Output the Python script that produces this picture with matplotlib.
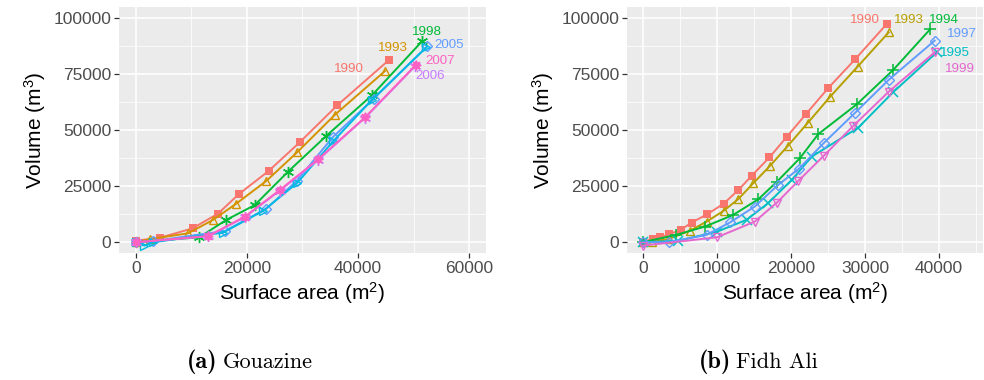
import matplotlib
matplotlib.use('Agg')
import matplotlib.pyplot as plt
from matplotlib.ticker import MultipleLocator

plt.rcParams['font.family']=['Liberation Sans','DejaVu Sans']
plt.rcParams['mathtext.fontset']='custom'; plt.rcParams['mathtext.rm']='Liberation Sans'; plt.rcParams['mathtext.it']='Liberation Sans'

# Gouazine: surface area (m2) and volume (m3) per survey year
gz_1990_area=[0,4300,10200,14800,18500,23900,29500,36300,45600]
gz_1990_vol=[700,2000,6200,12800,21400,31800,44600,61200,81400]
gz_1993_area=[0,2600,9400,13900,18000,23500,29100,35800,44900]
gz_1993_vol=[0,1400,4000,10000,17100,27400,40300,56800,76500]
gz_1998_area=[0,11400,16300,21400,27400,34300,42600,51500]
gz_1998_vol=[0,2200,10000,16600,31500,47500,65800,89600]
gz_2005_area=[0,3000,16000,23500,29000,35500,42800,52500]
gz_2005_vol=[0,500,5000,15000,27500,47000,64000,87500]
gz_cyan_area=[0,1500,3100,15700,22900,29100,35500,42500,52300]
gz_cyan_vol=[0,-1500,0,4300,14000,26600,45000,63500,87000]
gz_2006_area=[0,13000,19600,25900,32800,41300,50300]
gz_2006_vol=[0,2600,11200,23000,36700,55600,78600]
gz_2007_area=[0,13000,19600,25900,32800,41300,50400]
gz_2007_vol=[0,2800,11400,23300,37000,55800,79100]

# Fidh Ali
fa_1990_area=[0,1400,2300,3600,5100,6600,8700,10900,12900,14700,17100,19400,22000,25000,28700,32900]
fa_1990_vol=[300,1500,2200,3600,5500,8800,12500,17200,23300,29700,37900,46900,57100,68700,81800,97300]
fa_1993_area=[0,1200,3600,6400,8600,10900,12900,14900,17200,19600,22300,25300,29000,33200]
fa_1993_vol=[0,0,1600,5200,9200,14000,19300,26300,34200,43100,53400,65000,78400,93700]
fa_1994_area=[0,4500,8400,12200,15600,18100,21200,23700,28900,33800,38800]
fa_1994_vol=[0,3300,7000,12200,19200,27000,37500,48300,61600,76900,95100]
fa_1995_area=[0,4800,10000,14000,16900,20100,22800,29100,33800,39700]
fa_1995_vol=[0,700,4700,10000,17400,27800,38200,51200,67000,84800]
fa_1997_area=[0,3500,8600,11800,15100,18200,21100,24400,28600,33200,39400]
fa_1997_vol=[0,0,3300,8900,15900,25400,32900,44200,57600,72500,90000]
fa_1999_area=[0,10000,15100,18100,21000,24400,28400,33200,39400]
fa_1999_vol=[-1500,2200,9200,17700,27400,38500,51900,67200,84800]

gz_labels=['1990','1993','1998','2005','2007','2006']
gz_label_x=[38400,46300,52500,56400,54800,53000]
gz_label_y=[77200,86600,94000,88000,80900,74200]
fa_labels=['1990','1993','1994','1997','1995','1999']
fa_label_x=[30000,35900,40600,43100,42200,42800]
fa_label_y=[99300,99300,99300,93000,84400,77200]

C={'1990':'#F8766D','1993':'#D39200','1998':'#00BA38','cyan':'#00B9E3','2005':'#619CFF','2006':'#C77CFF','2007':'#FF61C3'}
CF={'1990':'#F8766D','1993':'#B79F00','1994':'#00BA38','1995':'#00BFC4','1997':'#619CFF','1999':'#E468CF'}

def style(ax,xmaj,xlim):
    ax.set_facecolor('#EBEBEB')
    for s in ax.spines.values(): s.set_visible(False)
    ax.xaxis.set_major_locator(MultipleLocator(xmaj)); ax.xaxis.set_minor_locator(MultipleLocator(xmaj/2))
    ax.yaxis.set_major_locator(MultipleLocator(25000)); ax.yaxis.set_minor_locator(MultipleLocator(12500))
    ax.grid(which='major',color='white',lw=1.1); ax.grid(which='minor',color='white',lw=0.55); ax.set_axisbelow(True)
    ax.tick_params(which='major',length=3.5,width=0.9,color='#333333',labelcolor='#4D4D4D',labelsize=12.5,pad=2)
    ax.tick_params(which='minor',length=0)
    ax.set_xlim(*xlim); ax.set_ylim(-4800,105000)
    ax.set_xlabel('Surface area (m$^2$)',fontsize=15,labelpad=3); ax.set_ylabel('Volume (m$^3$)',fontsize=15,labelpad=4)

fig=plt.figure(figsize=(9.84,3.8),dpi=100)
a1=fig.add_axes([0.1209,0.3342,0.373,0.6474]); a2=fig.add_axes([0.637,0.3342,0.3618,0.6474])
style(a1,20000,(-3060,63060)); style(a2,10000,(-2160,45900))

lw=1.4
kw=dict(lw=lw,ms=6,mew=1.0,clip_on=False)
a1.plot(gz_1990_area,gz_1990_vol,color=C['1990'],marker='s',lw=lw,ms=5.5,mew=0)
a1.plot(gz_1993_area,gz_1993_vol,color=C['1993'],marker='^',mfc='none',**kw)
a1.plot(gz_1998_area,gz_1998_vol,color=C['1998'],marker=(6,2,0),ms=8,lw=lw,mew=1.0)
a1.plot(gz_2005_area,gz_2005_vol,color=C['2005'],marker='D',mfc='none',ms=5.5,lw=lw,mew=1.0)
a1.plot(gz_cyan_area,gz_cyan_vol,color=C['cyan'],marker='>',mfc='none',**kw)
a1.plot(gz_2006_area,gz_2006_vol,color=C['2006'],marker=(6,2,0),ms=8,lw=lw,mew=1.0)
a1.plot(gz_2007_area,gz_2007_vol,color=C['2007'],marker=(8,1,0),ms=7,lw=lw,mew=0.8)
for t,x,y in zip(gz_labels,gz_label_x,gz_label_y):
    a1.text(x,y,t,color=C[t],fontsize=9.6,ha='center',va='center',clip_on=False)

a2.plot(fa_1990_area,fa_1990_vol,color=CF['1990'],marker='s',lw=lw,ms=5.5,mew=0)
a2.plot(fa_1993_area,fa_1993_vol,color=CF['1993'],marker='^',mfc='none',**kw)
a2.plot(fa_1994_area,fa_1994_vol,color=CF['1994'],marker='+',ms=8.5,lw=lw,mew=1.1)
a2.plot(fa_1995_area,fa_1995_vol,color=CF['1995'],marker='x',ms=6.5,lw=lw,mew=1.1)
a2.plot(fa_1997_area,fa_1997_vol,color=CF['1997'],marker='D',mfc='none',ms=5.5,lw=lw,mew=1.0)
a2.plot(fa_1999_area,fa_1999_vol,color=CF['1999'],marker='v',mfc='none',**kw)
for t,x,y in zip(fa_labels,fa_label_x,fa_label_y):
    a2.text(x,y,t,color=CF[t],fontsize=9.6,ha='center',va='center',clip_on=False)

for xt,xn,tag,name in [(0.2208,0.2263,'(a)','Gouazine'),(0.7436,0.748,'(b)','Fidh Ali')]:
    fig.text(xt,0.032,tag,fontfamily='cmb10',fontsize=17.5,ha='right',va='baseline')
    fig.text(xn,0.032,name,fontfamily='cmr10',fontsize=16,ha='left',va='baseline')

fig.savefig('out.png',dpi=100)
